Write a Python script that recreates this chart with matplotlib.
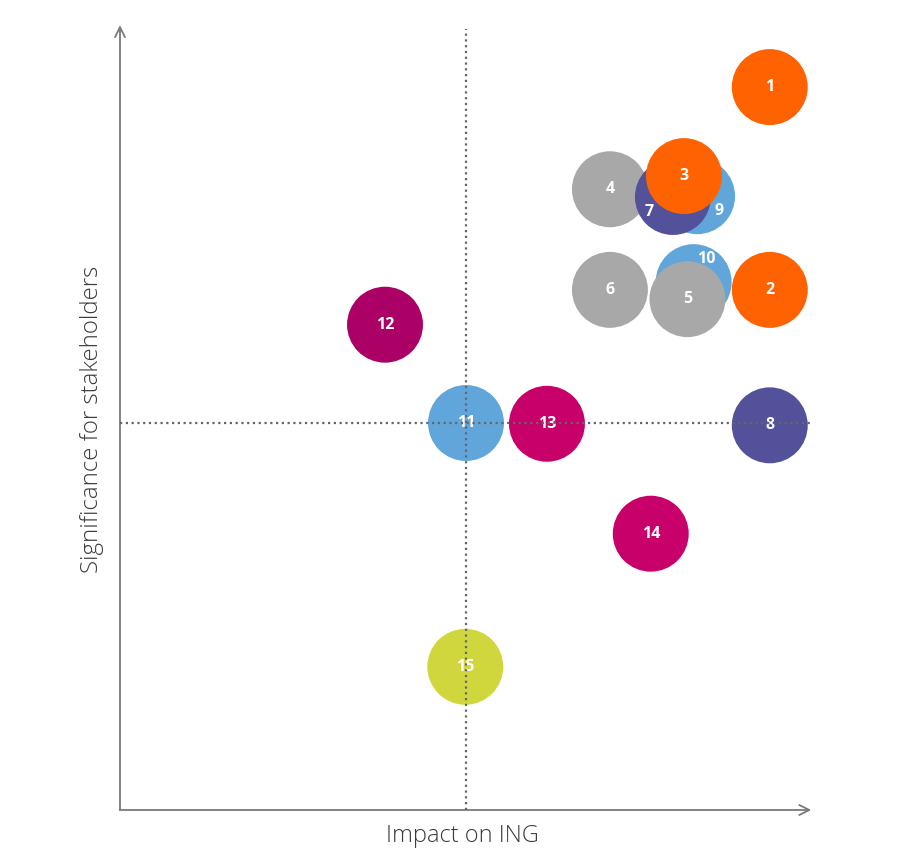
import matplotlib.pyplot as plt

# issues on the materiality matrix
ids = ['1', '2', '3', '4', '5', '6', '7', '8', '9', '10', '11', '12', '13', '14', '15']
impact = [9.39, 9.39, 8.15, 7.08, 8.20, 7.08, 7.99, 9.39, 8.34, 8.29, 5.00, 3.83, 6.17, 7.67, 4.99]
significance = [9.34, 6.72, 8.19, 8.02, 6.60, 6.72, 7.92, 4.97, 7.93, 6.82, 5.00, 6.27, 4.99, 3.57, 1.85]
colors = ['#ff6200', '#ff6200', '#ff6200', '#a8a8a8', '#a8a8a8', '#a8a8a8', '#525199', '#525199',
          '#60a6da', '#60a6da', '#60a6da', '#ab0066', '#c8006a', '#c8006a', '#d0d73c']
# drawing order (later ones sit on top)
order = ['1', '2', '4', '6', '9', '7', '3', '10', '5', '8', '11', '12', '13', '14', '15']
# label nudges for partly hidden bubbles (points)
label_offsets = {'7': (-17, -11), '9': (16, -11), '10': (9, 17)}

x_mid = 5.0
y_mid = 5.0

fig = plt.figure(figsize=(9, 8.6), dpi=100)
ax = fig.add_axes([0, 0, 1, 1])
ax.set_xlim(-1.734, 11.272)
ax.set_ylim(-0.646, 10.465)
ax.axis('off')

# axes with arrow heads
ax.annotate('', xy=(0, 10.14), xytext=(0, 0),
            arrowprops=dict(arrowstyle='->', color='#7a7a7a', lw=1.3, mutation_scale=18,
                            shrinkA=0, shrinkB=0))
ax.annotate('', xy=(9.99, 0), xytext=(0, 0),
            arrowprops=dict(arrowstyle='->', color='#7a7a7a', lw=1.3, mutation_scale=18,
                            shrinkA=0, shrinkB=0))

for k in order:
    i = ids.index(k)
    ax.scatter(impact[i], significance[i], s=2990, color=colors[i], edgecolors='none', zorder=2)
    dx, dy = label_offsets.get(k, (0, 0))
    ax.annotate(k, (impact[i], significance[i]), xytext=(dx, dy), textcoords='offset points',
                ha='center', va='center', color='white', fontsize=11.5,
                family='Open Sans', weight='bold', zorder=3)

# quadrant lines on top of the bubbles
ax.plot([x_mid, x_mid], [0, 10.09], color='#666666', lw=1.6, ls=(0, (1, 1.6)), zorder=4)
ax.plot([0, 9.98], [y_mid, y_mid], color='#666666', lw=1.6, ls=(0, (1, 1.6)), zorder=4)

ax.text(x_mid - 0.05, -0.33, 'Impact on ING', ha='center', va='center', fontsize=17,
        family='Open Sans', weight='light', color='#3c3c3c')
ax.text(-0.4, 5.05, 'Significance for stakeholders', ha='center', va='center', rotation=90,
        fontsize=17.3, family='Open Sans', weight='light', color='#3c3c3c')

fig.savefig('out.png', dpi=100, facecolor='white')
